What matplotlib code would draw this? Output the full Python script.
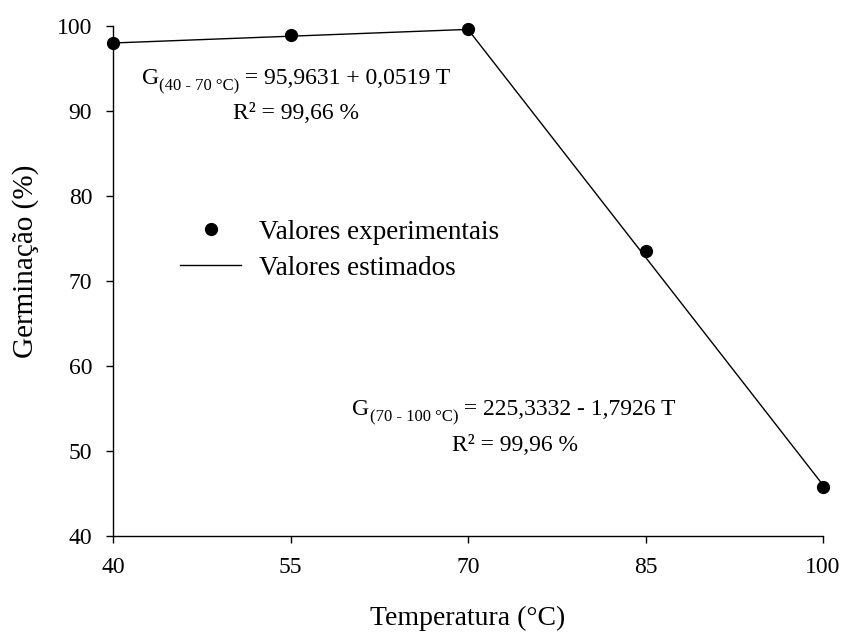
import matplotlib.pyplot as plt

plt.rcParams["font.family"] = ["Liberation Serif", "DejaVu Serif"]

# experimental values
temperatura = [40, 55, 70, 85, 100]
germinacao = [98.0, 98.9, 99.6, 73.5, 45.8]

# estimated (piecewise regression) line
temp_estimada = [40, 70, 100]
germ_estimada = [98.0, 99.6, 46.0]

x_ticks = [40, 55, 70, 85, 100]
y_ticks = [40, 50, 60, 70, 80, 90, 100]

W, H = 842, 632

fig = plt.figure(figsize=(W / 100, H / 100), dpi=100)
ax = fig.add_axes([113 / W, (H - 536) / H, (823 - 113) / W, (536 - 26) / H])

ax.plot(temp_estimada, germ_estimada, color="black", linewidth=1.0,
        label="Valores estimados", zorder=2)
ax.plot(temperatura, germinacao, linestyle="", marker="o", color="black",
        markersize=8.5, label="Valores experimentais", zorder=3, clip_on=False)

ax.set_xlim(40, 100)
ax.set_ylim(40, 100)
ax.set_xticks(x_ticks)
ax.set_yticks(y_ticks)
ax.tick_params(direction="out", length=5, width=1, labelsize=17, pad=10)
for side in ["top", "right"]:
    ax.spines[side].set_visible(False)
for side in ["left", "bottom"]:
    ax.spines[side].set_linewidth(1)

ax.set_xlabel("Temperatura (°C)", fontsize=20)
ax.set_ylabel("Germinação (%)", fontsize=21)
ax.xaxis.set_label_coords(0.5, (536 - 618) / 510)
ax.xaxis.label.set_verticalalignment("center")
ax.yaxis.set_label_coords((26 - 113) / 710, (536 - 261) / 510)
ax.yaxis.label.set_verticalalignment("center")

renderer = fig.canvas.get_renderer()


def put_equation(x_center, y_base, pieces):
    """Lay out (text, size, drop_px) pieces side by side, centred on x_center.

    Coordinates are pixels from the top left corner; y_base is the baseline.
    """
    texts = []
    for s, size, drop in pieces:
        t = fig.text(0, 0, s, fontsize=size, ha="left", va="baseline")
        texts.append((t, drop))
    widths = [t.get_window_extent(renderer).width for t, _ in texts]
    x = x_center - sum(widths) / 2
    for (t, drop), w in zip(texts, widths):
        t.set_position((x / W, 1 - (y_base + drop) / H))
        x += w


put_equation(296, 84, [("G", 17, 0), ("(40 - 70 °C)", 12, 6),
                       (" = 95,9631 + 0,0519 T", 17, 0)])
put_equation(296, 119, [("R² = 99,66 %", 17, 0)])
put_equation(514, 415, [("G", 17, 0), ("(70 - 100 °C)", 12, 6),
                        (" = 225,3332 - 1,7926 T", 17, 0)])
put_equation(515, 451, [("R² = 99,96 %", 17, 0)])

handles, labels = ax.get_legend_handles_labels()
ax.legend(handles[::-1], labels[::-1], frameon=False, fontsize=19.5,
          loc="upper left", bbox_to_anchor=(161 / W, 1 - 201 / H),
          bbox_transform=fig.transFigure, handlelength=2.26,
          handletextpad=0.67, labelspacing=0.4, borderpad=0.2)

fig.savefig("out.png", dpi=100)
